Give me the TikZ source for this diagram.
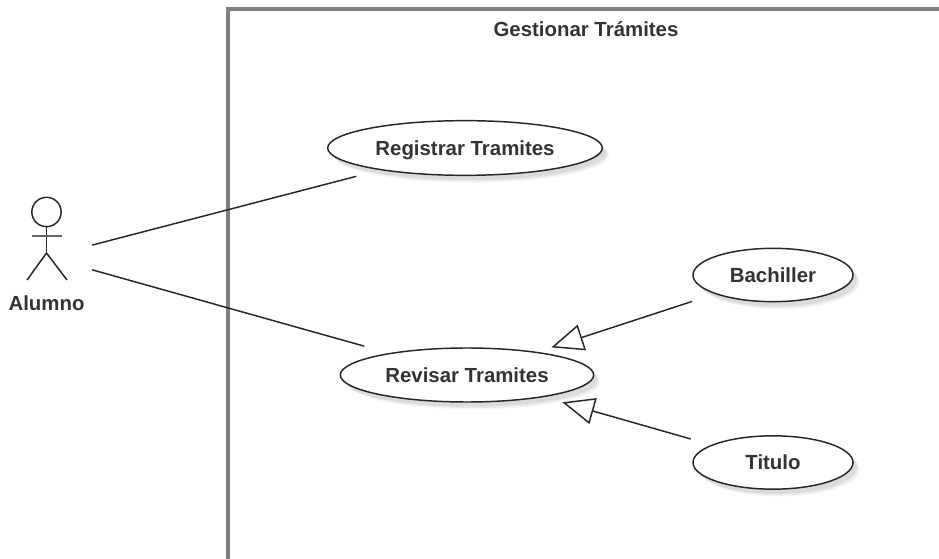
\documentclass[tikz,border=0pt]{standalone}
\usepackage{fontspec}
\setmainfont{Liberation Sans}
\usetikzlibrary{arrows.meta,shapes.geometric,shadows}
\definecolor{textgray}{HTML}{333333}
\definecolor{framegray}{HTML}{7F7F7F}
\tikzset{
    softshadow/.style={
        drop shadow={shadow xshift=5pt,shadow yshift=-5.5pt,opacity=.04,fill=black},
        drop shadow={shadow xshift=4pt,shadow yshift=-4.5pt,opacity=.05,fill=black},
        drop shadow={shadow xshift=3pt,shadow yshift=-3.5pt,opacity=.06,fill=black}},
    usecase/.style={ellipse,draw=black!85,line width=1.1pt,fill=white,inner sep=0pt,text=textgray,text height=11pt,text depth=0pt,font=\bfseries\fontsize{15.3}{18}\selectfont,softshadow},
    label/.style={text=textgray,inner sep=0pt,font=\bfseries\fontsize{15.3}{18}\selectfont},
    assoc/.style={draw=black!85,line width=1.1pt},
    generalize/.style={assoc,-{Triangle[open,length=24pt,width=20pt,line width=1.1pt]}}
}
\begin{document}
\begin{tikzpicture}[x=0.75pt,y=-0.75pt]
    \useasboundingbox (0,0) rectangle (939,559);
    \draw[framegray,line width=2.3pt] (228,559) -- (228,9) -- (939,9);
    \node[label] (title) at (586,29) {Gestionar Trámites};
    % actor
    \node[circle,draw=black!85,line width=1.1pt,minimum size=22pt,inner sep=0pt] (head) at (46.5,212) {};
    \coordinate (neck) at (46.5,253);
    \coordinate (alumno) at (46.5,257);
    \draw[assoc] (head) -- (neck);
    \draw[assoc,line width=1.6pt,black!60] (32,236) -- (61.5,236);
    \draw[assoc] (27,280) -- (neck) -- (67,280);
    \node[label] (alumnolabel) at (46.5,303) {Alumno};
    % use cases
    \node[usecase,minimum width=206pt,minimum height=41pt] (registrar) at (465,148) {Registrar Tramites};
    \node[usecase,minimum width=190pt,minimum height=40.5pt] (revisar) at (467,375) {Revisar Tramites};
    \node[usecase,minimum width=120pt,minimum height=40pt] (bachiller) at (773,275) {Bachiller};
    \node[usecase,minimum width=120pt,minimum height=40pt] (titulo) at (773,462.5) {Titulo};
    \draw[assoc,shorten <=35.5pt,shorten >=18.4pt] (alumno) -- (registrar);
    \draw[assoc,shorten <=35.5pt,shorten >=19.2pt] (alumno) -- (revisar);
    \draw[generalize,shorten <=18pt,shorten >=10.9pt] (bachiller) -- (revisar);
    \draw[generalize,shorten <=16pt,shorten >=14.2pt] (titulo) -- (revisar);
\end{tikzpicture}
\end{document}
